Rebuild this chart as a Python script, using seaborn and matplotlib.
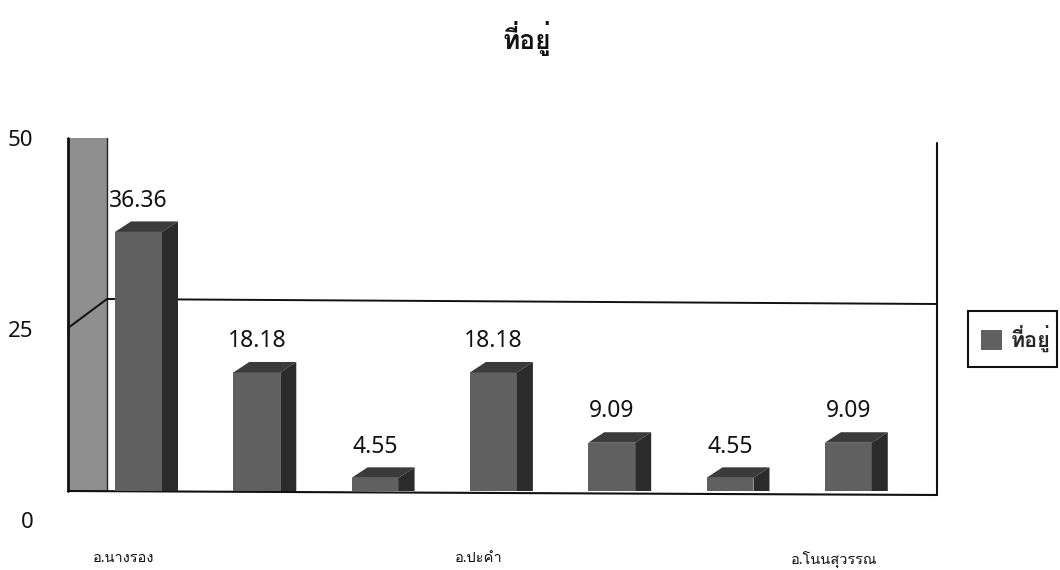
import matplotlib
matplotlib.use('Agg')
import matplotlib.pyplot as plt
import seaborn as sns
from matplotlib.patches import Polygon, Rectangle
from matplotlib.transforms import ScaledTranslation

values = [36.36, 18.18, 4.55, 18.18, 9.09, 4.55, 9.09]
positions = [0, 1, 2, 3, 4, 5, 6]
tick_labels = ['อ.นางรอง', '', '', 'อ.ปะคำ', '', '', 'อ.โนนสุวรรณ']
y_ticks = [0, 25, 50]
series_name = 'ที่อยู่'

W, H = 1060, 570
sns.set_theme(style='white')
plt.rcParams['font.family'] = ['Noto Sans', 'Loma', 'Noto Sans Thai', 'DejaVu Sans']

FRONT = '#606060'
SIDE = '#2b2b2b'
TOP = '#3b3b3b'
WALL = '#8f8f8f'

# pixel layout of the plot
left, right, top, floor = 68, 937, 138, 491
zero_px, px_per_unit = 513, 7.73
first_px, step_px = 138.5, 118.3


def box(l, t, r, b):
    return [l / W, 1 - b / H, (r - l) / W, (b - t) / H]


def px_x(px):
    return (px - first_px) / step_px


def px_y(px):
    return (zero_px - px) / px_per_unit


fig = plt.figure(figsize=(W / 100, H / 100), dpi=100)
ax = fig.add_axes(box(left, top, right, floor))
ax.patch.set_visible(False)

sns.barplot(x=positions, y=values, color=FRONT, saturation=1, width=0.397,
            label=series_name, ax=ax, zorder=3, legend=False,
            edgecolor='none', linewidth=0)
ax.set_xlim(px_x(left), px_x(right))
ax.set_ylim(px_y(floor), px_y(top))
ax.set_xlabel('')
ax.set_ylabel('')
ax.set_yticks([])

# back wall and the gridline that folds across it
ax.axvspan(px_x(left), px_x(107), color=WALL, lw=0, zorder=0)
ax.plot([px_x(107)] * 2, [px_y(floor), px_y(top)], color='#222222', lw=1, zorder=1)
ax.plot([px_x(68), px_x(107), px_x(937)], [px_y(328), px_y(299), px_y(304)],
        color='#111111', lw=1.4, zorder=1, clip_on=False)

# fake 3d faces on each bar
dx = 16 / step_px
dy = 10.5 / px_per_unit
base = px_y(floor)
for bar, v in zip(ax.patches, values):
    x0 = bar.get_x()
    x1 = x0 + bar.get_width()
    ax.add_patch(Polygon([(x0, v), (x0 + dx, v + dy), (x1 + dx, v + dy), (x1, v)],
                         color=TOP, lw=0, zorder=3))
    ax.add_patch(Polygon([(x1, v), (x1 + dx, v + dy), (x1 + dx, base), (x1, base)],
                         color=SIDE, lw=0, zorder=3))
    ax.annotate(f'{v:.2f}', (x0 + bar.get_width() / 2, v), xytext=(0, 22.5),
                textcoords='offset points', ha='center', va='center',
                fontsize=16.5, color='#111111', zorder=5)

for side in ['top', 'bottom', 'left', 'right']:
    ax.spines[side].set_visible(False)
ax.plot([px_x(left)] * 2, [px_y(floor), px_y(top)], color='#111111', lw=2,
        zorder=4, clip_on=False)
ax.plot([px_x(right)] * 2, [px_y(495), px_y(143)], color='#111111', lw=1.5,
        zorder=4, clip_on=False)
ax.plot([px_x(left), px_x(right)], [px_y(491), px_y(495)], color='#111111', lw=1.5,
        zorder=2, clip_on=False)

ax.set_xticks(positions)
ax.set_xticklabels(tick_labels, fontsize=10.5, color='#111111')
ax.tick_params(axis='x', length=0, pad=43)
shift = ScaledTranslation(-14.5 / 100, 0, fig.dpi_scale_trans)
for lab in ax.get_xticklabels():
    lab.set_transform(lab.get_transform() + shift)

# value axis sits lower than the bars in the original
ax2 = fig.add_axes(box(left, 138, right, 520))
ax2.patch.set_visible(False)
ax2.set_ylim(0, 50)
ax2.set_yticks(y_ticks)
ax2.set_xticks([])
ax2.tick_params(axis='y', length=0, pad=25, labelsize=16, labelcolor='#111111')
for side in ax2.spines.values():
    side.set_visible(False)

# legend frame is tighter on the right than matplotlib's padding allows
handles, labels = ax.get_legend_handles_labels()
ax2.legend(handles, labels, loc='center left',
           bbox_to_anchor=(968 / W, 1 - 339 / H),
           bbox_transform=fig.transFigure, borderaxespad=0,
           prop={'size': 15.5, 'weight': 'bold'}, frameon=False,
           handlelength=1.0, handleheight=1.0, handletextpad=0.4,
           borderpad=0.6)
fig.add_artist(Rectangle((968 / W, 1 - 367 / H), 89 / W, 56 / H,
                         transform=fig.transFigure, fill=False,
                         edgecolor='#111111', linewidth=1.5))

fig.text(527 / W, 1 - 39 / H, series_name, ha='center', va='center', fontsize=19,
         color='#111111', fontweight='bold')

fig.savefig('out.png', dpi=100)
